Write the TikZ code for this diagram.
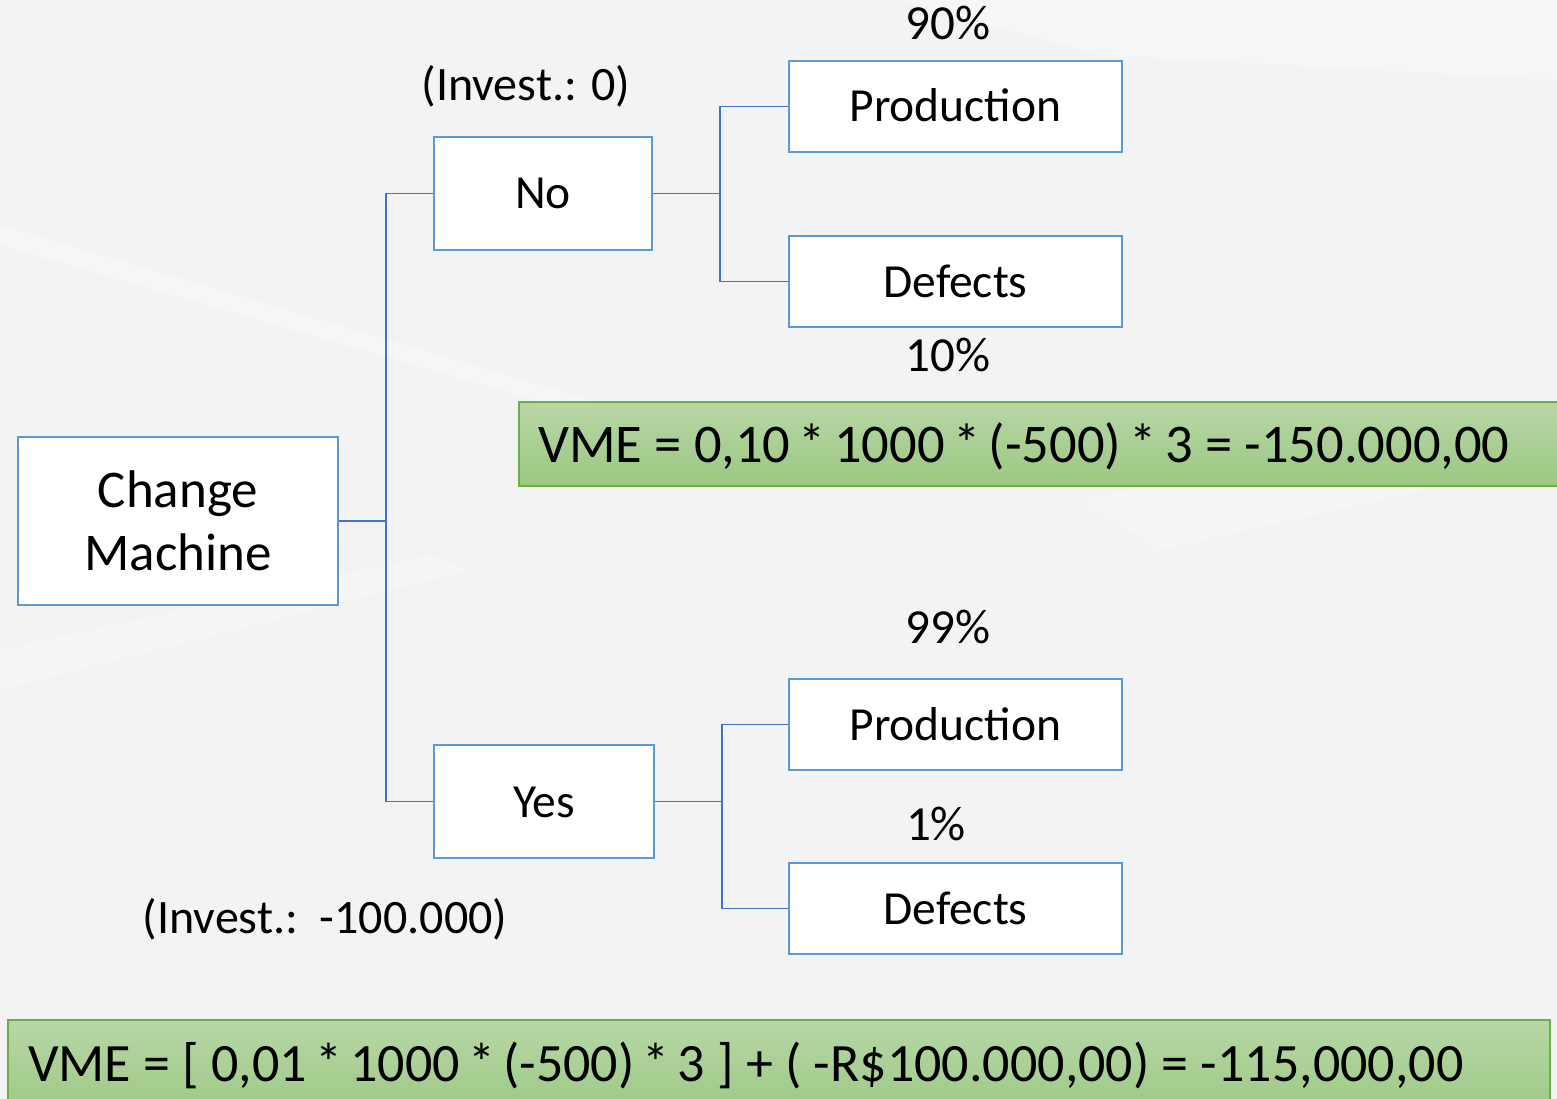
\documentclass[tikz,border=0pt]{standalone}
\usepackage{fontspec}
\setmainfont{Carlito}
\definecolor{boxline}{RGB}{91,155,213}
\definecolor{wire}{RGB}{68,114,196}
\definecolor{greentop}{RGB}{183,215,166}
\definecolor{greenbot}{RGB}{156,200,130}
\definecolor{greenline}{RGB}{112,173,71}
\definecolor{backdrop}{RGB}{243,243,243}
% a tighter multiplication star for the formulas
\newcommand\vmestar{\kern-4pt*\kern-4pt}
\tikzset{
  treebox/.style={draw=boxline, line width=2.5pt, fill=white,
    font=\fontsize{47.5}{63}\selectfont,
    inner sep=0pt, text height=31pt, text depth=0pt},
  connector/.style={draw=wire, line width=1.5pt},
  note/.style={font=\fontsize{48}{58}\selectfont, anchor=base, inner sep=0pt},
  vmebox/.style={draw=greenline, line width=1.5pt, top color=greentop,
    bottom color=greenbot, inner sep=0pt},
  vmetext/.style={anchor=base west, inner sep=0pt}
}
\begin{document}
\begin{tikzpicture}[x=1pt, y=-1pt]
\useasboundingbox (0,0) rectangle (1557,1099);
% backdrop with faint light streaks
\fill[backdrop] (0,0) rectangle (1557,1099);
\fill[white, opacity=0.30] (0,225) -- (0,245) -- (760,465) -- (760,450) -- cycle;
\fill[white, opacity=0.25] (900,0) -- (1557,0) -- (1557,80) -- (1100,55) -- cycle;
\fill[white, opacity=0.20] (0,650) -- (0,690) -- (470,570) -- (430,555) -- cycle;
\fill[white, opacity=0.20] (1080,500) -- (1557,400) -- (1557,460) -- (1160,550) -- cycle;

% decision boxes
\node[treebox, minimum width=320pt, minimum height=168pt, text height=, text depth=,
  align=center, font=\fontsize{53}{63}\selectfont]
  (cm) at (178,521) {Change\\Machine};
\node[treebox, minimum width=218pt, minimum height=113pt] (no) at (543,193.5) {No};
\node[treebox, minimum width=220pt, minimum height=113pt] (yes) at (544,801.5) {Yes};

% outcome boxes
\node[treebox, minimum width=333pt, minimum height=91pt] (p1) at (955.5,106.5) {Production};
\node[treebox, minimum width=333pt, minimum height=91pt] (d1) at (955.5,281.5) {Defects};
\node[treebox, minimum width=333pt, minimum height=91pt] (p2) at (955.5,724.5) {Production};
\node[treebox, minimum width=333pt, minimum height=91pt] (d2) at (955.5,908.5) {Defects};

% tree connectors
\coordinate (j0) at (386,521);
\coordinate (j1) at (720,194);
\coordinate (j2) at (722,801);
\draw[connector] (cm.east) -- (cm.east -| j0);
\draw[connector] (no.west) -- (no.west -| j0) -- (yes.west -| j0) -- (yes.west);
\draw[connector] (no.east) -- (no.east -| j1);
\draw[connector] (p1.west) -- (p1.west -| j1) -- (d1.west -| j1) -- (d1.west);
\draw[connector] (yes.east) -- (yes.east -| j2);
\draw[connector] (p2.west) -- (p2.west -| j2) -- (d2.west -| j2) -- (d2.west);

% probabilities and investments
\node[note, font=\fontsize{49}{58}\selectfont] (pp1) at (948,40) {90\%};
\node[note, font=\fontsize{49}{58}\selectfont] (pd1) at (948,371) {10\%};
\node[note, font=\fontsize{49}{58}\selectfont] (pp2) at (948,643) {99\%};
\node[note, font=\fontsize{49}{58}\selectfont] (pd2) at (936,840) {1\%};
\node[note] (inv0) at (526,101) {(Invest.: 0)};
\node[note] (inv1) at (325,933) {(Invest.:\ \ -100.000)};

% expected values
\node[vmebox, minimum width=1050pt, minimum height=84pt] (vme1box) at (1044,444) {};
\node[vmetext, font=\fontsize{54.5}{60}\selectfont] (vme1) at (538,462)
  {VME = 0,10 \vmestar{} 1000 \vmestar{} (-500) \vmestar{} 3 = -150.000,00};
\node[vmebox, minimum width=1542pt, minimum height=100pt] (vme2box) at (779,1070) {};
\node[vmetext, font=\fontsize{54}{60}\selectfont] (vme2) at (28,1081)
  {VME = [ 0,01 \vmestar{} 1000 \vmestar{} (-500) \vmestar{} 3 ] + ( -R\$100.000,00) = -115,000,00};
\end{tikzpicture}
\end{document}
